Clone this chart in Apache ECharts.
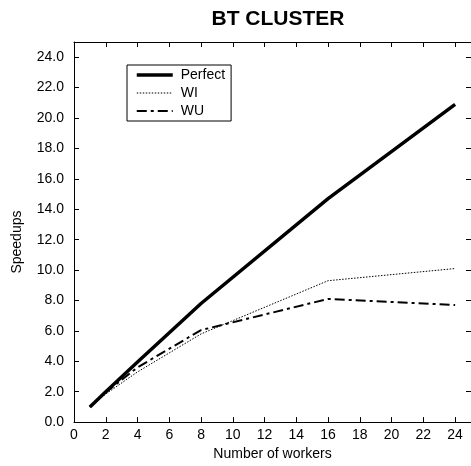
<!DOCTYPE html>
<html>
<head>
<meta charset="utf-8">
<script src="https://cdn.jsdelivr.net/npm/echarts@6/dist/echarts.min.js"></script>
<style>
  html, body { margin: 0; padding: 0; background: #fff; }
  #chart { width: 471px; height: 466px; }
</style>
</head>
<body>
<div id="chart"></div>
<script>
// workers on x, speedup on y
var workers = [1, 2, 4, 8, 16, 24];
var perfect = [1, 2, 3.95, 7.8, 14.7, 20.9];
var wi = [1, 1.85, 3.3, 5.8, 9.3, 10.1];
var wu = [1, 1.95, 3.6, 6.05, 8.1, 7.7];

var font = 'Liberation Sans, Arial, sans-serif';

function pairs(ys) {
  return workers.map(function (x, i) { return [x, ys[i]]; });
}

var chart = echarts.init(document.getElementById('chart'));

var tickIn = { show: true, inside: true, length: 5, lineStyle: { color: '#000', width: 1 } };
var frameLine = { show: true, onZero: false, lineStyle: { color: '#000', width: 1 } };

var option = {
  animation: false,
  textStyle: { fontFamily: font, color: '#000' },
  title: {
    text: 'BT CLUSTER',
    left: 273,
    top: 4,
    textAlign: 'center',
    textStyle: { fontFamily: font, fontSize: 21, fontWeight: 'bold', color: '#000' }
  },
  legend: {
    orient: 'vertical',
    left: 127,
    top: 65,
    padding: [3, 6, 3, 8],
    borderColor: '#000',
    borderWidth: 1,
    borderRadius: 0,
    itemWidth: 36,
    itemHeight: 14,
    itemGap: 4,
    itemStyle: { opacity: 0 },
    textStyle: { fontFamily: font, fontSize: 14, color: '#000', padding: [0, 0, 0, 3] },
    data: [
      { name: 'Perfect', lineStyle: { width: 3.5, color: '#000' } },
      { name: 'WI', lineStyle: { width: 1, color: '#000', type: [1.5, 1.5] } },
      { name: 'WU', lineStyle: { width: 2, color: '#000', type: [10, 4, 3, 4] } }
    ]
  },
  grid: { left: 74, right: -2, top: 42, bottom: 41 },
  xAxis: [{
    type: 'value',
    min: 0, max: 25, interval: 2,
    name: 'Number of workers',
    nameLocation: 'middle',
    nameGap: 24,
    nameTextStyle: { fontFamily: font, fontSize: 14, color: '#000' },
    axisLine: frameLine,
    axisTick: tickIn,
    axisLabel: { fontFamily: font, fontSize: 14, color: '#000', margin: 6, showMaxLabel: false },
    splitLine: { show: false }
  }, {
    type: 'value',
    position: 'top',
    min: 0, max: 25, interval: 2,
    axisLine: frameLine,
    axisTick: tickIn,
    axisLabel: { show: false },
    splitLine: { show: false }
  }],
  yAxis: [{
    type: 'value',
    min: 0, max: 25, interval: 2,
    name: 'Speedups',
    nameLocation: 'middle',
    nameGap: 50,
    nameTextStyle: { fontFamily: font, fontSize: 14, color: '#000', padding: [0, 20, 0, 0] },
    axisLine: frameLine,
    axisTick: tickIn,
    axisLabel: {
      fontFamily: font, fontSize: 14, color: '#000', margin: 10, showMaxLabel: false,
      formatter: function (v) { return v.toFixed(1); }
    },
    splitLine: { show: false }
  }, {
    type: 'value',
    position: 'right',
    min: 0, max: 25, interval: 2,
    axisLine: frameLine,
    axisTick: tickIn,
    axisLabel: { show: false },
    splitLine: { show: false }
  }],
  series: [
    {
      name: 'Perfect', type: 'line', symbol: 'none',
      lineStyle: { color: '#000', width: 3.5 },
      itemStyle: { color: '#000' },
      data: pairs(perfect)
    },
    {
      name: 'WI', type: 'line', symbol: 'none',
      lineStyle: { color: '#000', width: 1, type: [1.5, 1.5] },
      itemStyle: { color: '#000' },
      data: pairs(wi)
    },
    {
      name: 'WU', type: 'line', symbol: 'none',
      lineStyle: { color: '#000', width: 2, type: [10, 4, 3, 4] },
      itemStyle: { color: '#000' },
      data: pairs(wu)
    }
  ]
};

chart.setOption(option);
</script>
</body>
</html>
